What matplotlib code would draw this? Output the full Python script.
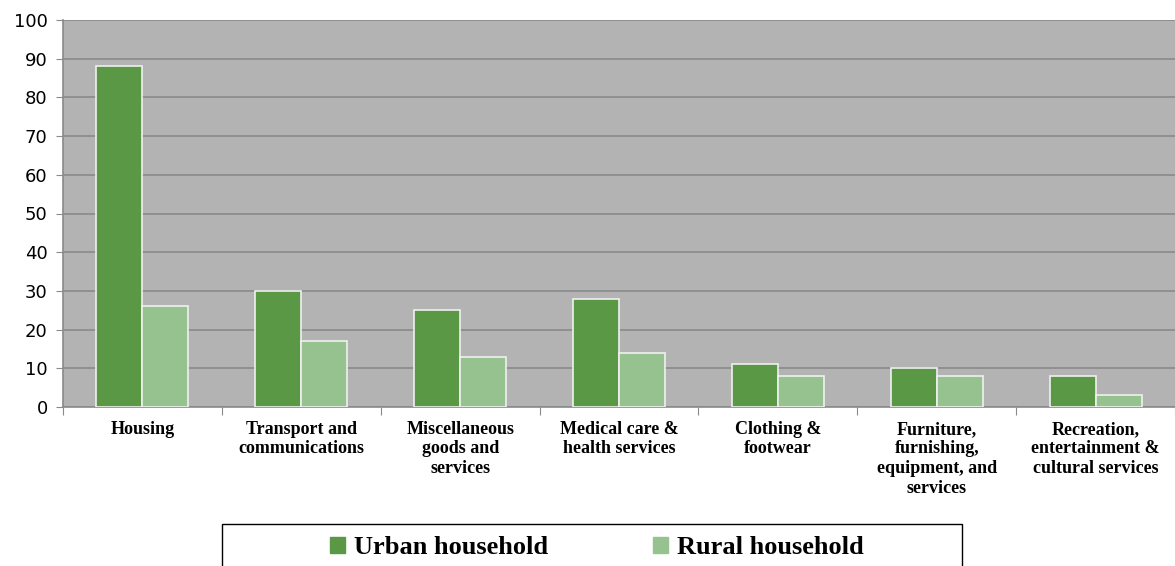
import numpy as np
import matplotlib.pyplot as plt
from matplotlib.patches import Patch, Rectangle

# data
categories = [
    "Housing",
    "Transport and\ncommunications",
    "Miscellaneous\ngoods and\nservices",
    "Medical care &\nhealth services",
    "Clothing &\nfootwear",
    "Furniture,\nfurnishing,\nequipment, and\nservices",
    "Recreation,\nentertainment &\ncultural services",
]
urban = [88, 30, 25, 28, 11, 10, 8]
rural = [26, 17, 13, 14, 8, 8, 3]
series_names = ["Urban household", "Rural household"]

URBAN_COLOR = "#5b9845"
RURAL_COLOR = "#95c28e"
BG_COLOR = "#b2b3b2"
GRID_COLOR = "#8a8a8a"

W, H = 1175, 566
fig = plt.figure(figsize=(W / 100, H / 100), dpi=100)
ax = fig.add_axes([63 / W, 1 - 407 / H, 1 - 63 / W, (407 - 20) / H])
ax.set_facecolor(BG_COLOR)

x = np.arange(len(categories))
w = 0.29
ax.bar(x - w / 2, urban, w, color=URBAN_COLOR, edgecolor="#f0f0f0", linewidth=1.2, zorder=3)
ax.bar(x + w / 2, rural, w, color=RURAL_COLOR, edgecolor="#f0f0f0", linewidth=1.2, zorder=3)

ax.set_xlim(-0.5, len(categories) - 0.5)
ax.set_ylim(0, 100)
ax.set_yticks(np.arange(0, 101, 10))
ax.yaxis.grid(True, color=GRID_COLOR, linewidth=1.2, zorder=0)
ax.set_axisbelow(True)

for s in ["top", "right"]:
    ax.spines[s].set_visible(False)
for s in ["left", "bottom"]:
    ax.spines[s].set_color(GRID_COLOR)
    ax.spines[s].set_linewidth(1.2)

ax.tick_params(axis="y", length=5, color=GRID_COLOR, labelsize=13, pad=6)
ax.set_xticks(np.arange(-0.5, len(categories), 1.0))
ax.set_xticklabels([])
ax.tick_params(axis="x", length=6, color=GRID_COLOR)
ax.set_xticks(x, minor=True)
ax.set_xticklabels(categories, minor=True, fontfamily="Liberation Serif",
                   fontweight="bold", fontsize=13, linespacing=1.2, va="top")
ax.tick_params(axis="x", which="minor", length=0, pad=10)

# legend box (runs off the bottom edge like the original)
fig.patches.append(Rectangle((222 / W, -0.05), 740 / W, 0.05 + 1 - 524 / H,
                             transform=fig.transFigure, facecolor="white",
                             edgecolor="black", linewidth=1.0, zorder=1))
handles = [Patch(color=URBAN_COLOR), Patch(color=RURAL_COLOR)]
leg = fig.legend(handles, series_names, loc="center", ncol=2,
                 bbox_to_anchor=(597 / W, 1 - 548 / H),
                 prop={"family": "Liberation Serif", "weight": "bold", "size": 19},
                 frameon=False, handlelength=0.55, handleheight=0.55,
                 handletextpad=0.35, columnspacing=4.0, borderpad=0.0)
leg.set_zorder(2)

fig.savefig("out.png", dpi=100)
